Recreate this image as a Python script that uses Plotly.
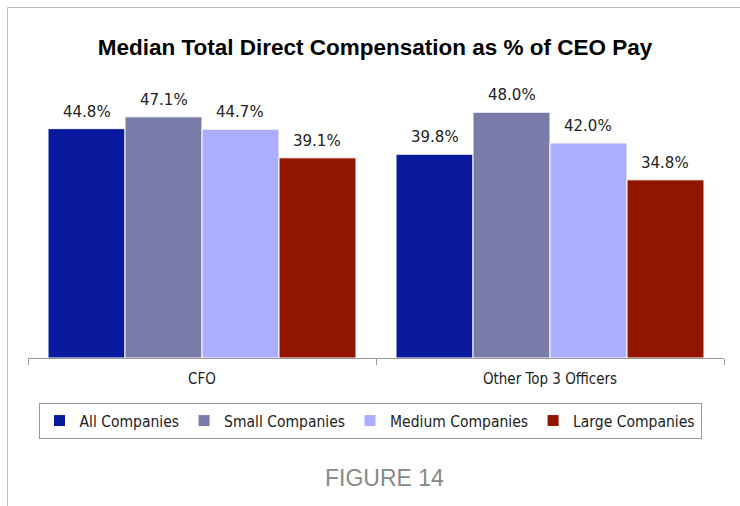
import plotly.graph_objects as go

categories = ["CFO", "Other Top 3 Officers"]
series_names = ["All Companies", "Small Companies", "Medium Companies", "Large Companies"]
values = {
    "All Companies": [44.8, 39.8],
    "Small Companies": [47.1, 48.0],
    "Medium Companies": [44.7, 42.0],
    "Large Companies": [39.1, 34.8],
}
colors = ["#0A1A9E", "#7A7BA9", "#ABADFF", "#921500"]

W, H = 740, 506
L, R, T, B = 28, 16, 102, 148
pw, ph = W - L - R, H - T - B
BARGAP = 0.115
bar_px = pw / len(categories) * (1 - BARGAP) / len(series_names)

COND = "DejaVu Sans Condensed, Liberation Sans Narrow, Arial Narrow, sans-serif"

def px_x(x):
    return (x - L) / pw

def px_y(y):
    return (H - B - y) / ph

fig = go.Figure()
for i, (name, c) in enumerate(zip(series_names, colors)):
    fig.add_trace(go.Bar(
        x=categories, y=values[name], name=name,
        marker=dict(color=c, line=dict(color="white", width=1)),
    ))
    for cat, v in zip(categories, values[name]):
        fig.add_annotation(x=cat, y=v, xref="x", yref="y", text=f"{v:.1f}%",
                           showarrow=False, yanchor="bottom",
                           xshift=(i - (len(series_names) - 1) / 2) * bar_px, yshift=6,
                           font=dict(family="DejaVu Sans, Verdana, sans-serif", size=15, color="#222"))

fig.update_layout(
    width=W, height=H,
    margin=dict(l=L, r=R, t=T, b=B),
    paper_bgcolor="white", plot_bgcolor="white",
    barmode="group", bargap=BARGAP, bargroupgap=0,
    title=dict(text="<b>Median Total Direct Compensation as % of CEO Pay</b>",
               x=px_x(375), xanchor="center", xref="paper", y=1 - 47 / H, yanchor="middle",
               font=dict(family="Liberation Sans, Arial, sans-serif", size=22.5, color="black")),
    xaxis=dict(showline=True, linecolor="#999", linewidth=1, ticks="outside", ticklen=6,
               tickcolor="#999", tickson="boundaries", ticklabelstandoff=7,
               tickfont=dict(family=COND, size=15, color="#222")),
    yaxis=dict(range=[0, 50], visible=False, showgrid=False),
    legend=dict(orientation="h", x=px_x(370), xanchor="center", y=px_y(403), yanchor="top",
                bordercolor="#999", borderwidth=1,
                font=dict(family=COND, size=15.5, color="#222"),
                itemwidth=30, traceorder="normal"),
    showlegend=True,
)

fig.add_annotation(text="FIGURE 14", xref="paper", yref="paper", x=px_x(384), y=px_y(478),
                   xanchor="center", yanchor="middle", showarrow=False,
                   font=dict(family="Liberation Sans, Arial, sans-serif", size=23, color="#888"))

fig.add_shape(type="line", xref="paper", yref="paper", x0=px_x(7.5), x1=px_x(7.5), y0=px_y(7.5), y1=px_y(506),
              line=dict(color="#bbb", width=1))
fig.add_shape(type="line", xref="paper", yref="paper", x0=px_x(7.5), x1=px_x(740), y0=px_y(7.5), y1=px_y(7.5),
              line=dict(color="#bbb", width=1))

fig.write_html("out.html")
